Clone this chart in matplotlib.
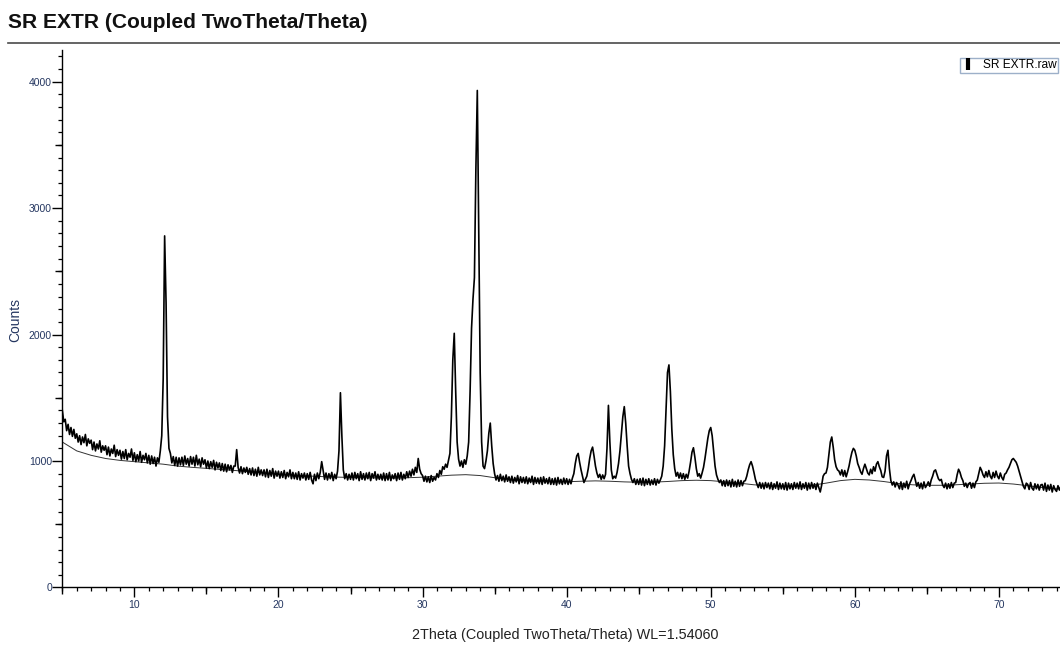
import numpy as np
import matplotlib.pyplot as plt
from matplotlib.lines import Line2D
from matplotlib.ticker import MultipleLocator, FixedLocator

plt.rcParams['font.family'] = ['Liberation Sans', 'DejaVu Sans']

# Scan: starts at 5.0 deg 2Theta, 0.1 deg step. One row per degree (x.0 ... x.9)
scan_start = 5.0
scan_step = 0.1
counts = [
    1400, 1310, 1330, 1240, 1290, 1210, 1265, 1195, 1250, 1180,   # 5
    1215, 1150, 1200, 1130, 1190, 1145, 1210, 1120, 1175, 1140,   # 6
    1165, 1090, 1150, 1080, 1135, 1095, 1160, 1070, 1120, 1085,   # 7
    1120, 1050, 1110, 1040, 1095, 1060, 1125, 1035, 1090, 1045,   # 8
    1085, 1015, 1075, 1020, 1090, 1010, 1060, 1030, 1095, 1005,   # 9
    1065, 995, 1050, 1000, 1075, 990, 1045, 1010, 1060, 985,      # 10
    1045, 975, 1040, 980, 1030, 960, 1025, 990, 1080, 1200,       # 11
    1650, 2780, 2250, 1350, 1100, 1060, 985, 1035, 965, 1030,     # 12
    960, 1025, 970, 1030, 965, 1040, 975, 1020, 960, 1035,        # 13
    975, 1030, 960, 1045, 970, 1015, 955, 1025, 975, 1010,        # 14
    945, 1000, 940, 995, 950, 1005, 930, 990, 945, 985,           # 15
    925, 980, 920, 975, 915, 970, 930, 965, 910, 960,             # 16
    960, 1090, 950, 905, 955, 900, 945, 910, 950, 895,            # 17
    940, 890, 945, 885, 935, 880, 950, 890, 930, 885,             # 18
    930, 875, 935, 870, 925, 880, 940, 865, 920, 880,             # 19
    920, 865, 915, 870, 925, 860, 910, 875, 930, 860,             # 20
    910, 860, 905, 855, 915, 850, 900, 865, 905, 850,             # 21
    900, 855, 910, 850, 820, 895, 845, 905, 860, 910,             # 22
    995, 925, 855, 905, 850, 900, 860, 910, 845, 895,             # 23
    860, 920, 1080, 1540, 1200, 930, 860, 900, 850, 895,          # 24
    855, 905, 850, 910, 860, 900, 845, 915, 855, 900,             # 25
    850, 905, 860, 910, 845, 900, 865, 915, 850, 895,             # 26
    855, 895, 850, 905, 845, 900, 850, 910, 845, 890,             # 27
    860, 900, 845, 905, 855, 910, 850, 895, 860, 915,             # 28
    870, 920, 880, 935, 890, 950, 910, 1020, 935, 900,            # 29
    885, 840, 880, 835, 875, 830, 885, 840, 870, 850,             # 30
    900, 870, 925, 895, 955, 935, 975, 950, 1005, 1060,           # 31
    1350, 1800, 2010, 1550, 1150, 1015, 960, 1000, 950, 1010,     # 32
    975, 1040, 1150, 1550, 2050, 2280, 2450, 3300, 3930, 2800,    # 33
    1700, 1150, 960, 940, 1000, 1080, 1220, 1300, 1120, 980,      # 34
    900, 850, 885, 840, 895, 845, 880, 835, 890, 840,             # 35
    875, 830, 880, 825, 870, 835, 885, 820, 875, 830,             # 36
    870, 825, 875, 820, 865, 830, 880, 815, 870, 825,             # 37
    865, 820, 870, 815, 875, 825, 860, 820, 870, 815,             # 38
    860, 815, 865, 810, 870, 820, 855, 815, 865, 820,             # 39
    860, 815, 855, 820, 865, 900, 980, 1040, 1060, 990,           # 40
    930, 880, 830, 855, 880, 940, 1020, 1080, 1110, 1040,         # 41
    960, 905, 870, 895, 855, 890, 860, 895, 1100, 1440,           # 42
    1150, 930, 860, 880, 865, 910, 980, 1080, 1220, 1350,         # 43
    1430, 1300, 1120, 960, 900, 855, 830, 860, 815, 855,          # 44
    815, 860, 810, 865, 805, 855, 815, 860, 810, 850,             # 45
    815, 860, 810, 855, 825, 850, 880, 960, 1120, 1400,           # 46
    1700, 1760, 1550, 1250, 1050, 940, 880, 910, 865, 905,        # 47
    860, 900, 855, 895, 865, 920, 990, 1070, 1105, 1030,          # 48
    940, 880, 900, 865, 905, 950, 1020, 1100, 1180, 1240,         # 49
    1265, 1200, 1080, 960, 890, 855, 830, 850, 805, 845,          # 50
    800, 850, 805, 845, 795, 855, 800, 840, 795, 850,             # 51
    800, 845, 805, 840, 845, 880, 930, 970, 995, 960,             # 52
    910, 855, 820, 790, 830, 785, 825, 780, 830, 790,             # 53
    825, 780, 830, 775, 820, 785, 835, 775, 825, 780,             # 54
    820, 775, 830, 770, 825, 780, 820, 775, 830, 785,             # 55
    825, 780, 835, 775, 820, 785, 830, 770, 825, 780,             # 56
    830, 785, 820, 775, 825, 790, 755, 810, 880, 900,             # 57
    905, 950, 1050, 1150, 1190, 1110, 1010, 955, 930, 920,        # 58
    890, 930, 880, 925, 875, 915, 960, 1020, 1070, 1100,          # 59
    1085, 1040, 980, 950, 915, 895, 940, 975, 940, 905,           # 60
    890, 935, 900, 955, 920, 975, 995, 955, 925, 875,             # 61
    870, 920, 1040, 1085, 940, 845, 810, 835, 795, 830,           # 62
    810, 780, 835, 775, 825, 790, 840, 780, 820, 845,             # 63
    875, 895, 850, 800, 830, 785, 825, 780, 835, 790,             # 64
    810, 835, 800, 850, 880, 920, 930, 895, 860, 845,             # 65
    855, 810, 790, 825, 780, 820, 785, 830, 790, 825,             # 66
    830, 890, 935, 910, 870, 845, 800, 825, 790, 820,             # 67
    830, 785, 825, 790, 835, 850, 900, 950, 925, 890,             # 68
    870, 915, 875, 925, 880, 860, 910, 870, 920, 880,             # 69
    860, 905, 870, 850, 895, 905, 930, 950, 980, 1010,            # 70
    1020, 1005, 990, 960, 920, 880, 840, 800, 780, 825,           # 71
    815, 775, 830, 785, 770, 820, 780, 815, 770, 810,             # 72
    815, 770, 825, 760, 810, 770, 815, 755, 805, 775,             # 73
    760, 805, 770, 800,                                           # 74
]
two_theta = scan_start + scan_step * np.arange(len(counts))

# Fitted background (smooth line under the pattern)
bg_theta = [5, 6, 7, 8, 9, 10, 11, 12, 13, 14, 15, 16, 17, 18, 19, 20, 21, 22, 23, 24,
            25, 26, 27, 28, 29, 30, 31, 32, 33, 34, 35, 36, 37, 38, 39, 40, 41, 42, 43, 44,
            45, 46, 47, 48, 49, 50, 51, 52, 53, 54, 55, 56, 57, 58, 59, 60, 61, 62, 63, 64,
            65, 66, 67, 68, 69, 70, 71, 72, 73, 74, 75]
bg_counts = [1150, 1080, 1045, 1020, 1005, 995, 985, 975, 960, 950, 942, 933, 925, 915, 905,
             895, 888, 882, 877, 873, 870, 868, 866, 866, 868, 872, 880, 888, 892, 885, 868,
             852, 843, 838, 835, 836, 840, 843, 840, 835, 832, 833, 838, 845, 848, 845, 835,
             825, 812, 805, 800, 800, 808, 825, 845, 855, 850, 838, 822, 812, 808, 808, 812,
             818, 824, 826, 818, 805, 790, 780, 772]

title = "SR EXTR (Coupled TwoTheta/Theta)"
x_label = "2Theta (Coupled TwoTheta/Theta) WL=1.54060"
y_label = "Counts"
legend_label = "SR EXTR.raw"

label_color = '#243660'

fig = plt.figure(figsize=(10.6, 6.48), dpi=100)
ax = fig.add_axes([0.0588, 0.0934, 0.9412, 0.8294])

ax.plot(bg_theta, bg_counts, color='#333333', lw=0.7)
ax.plot(two_theta, counts, color='black', lw=1.2)

ax.set_xlim(5, 74.24)
ax.set_ylim(0, 4250)

for side in ['top', 'right']:
    ax.spines[side].set_visible(False)
for side in ['left', 'bottom']:
    ax.spines[side].set_linewidth(1.0)

ax.xaxis.set_major_locator(MultipleLocator(10))
ax.xaxis.set_minor_locator(MultipleLocator(1))
ax.yaxis.set_major_locator(MultipleLocator(1000))
ax.yaxis.set_minor_locator(MultipleLocator(100))
ax.tick_params(which='major', length=7, width=1.0, labelsize=7.5,
               labelcolor=label_color)
ax.tick_params(axis='y', which='major', pad=0.5)
ax.tick_params(axis='x', which='major', pad=2)
ax.tick_params(which='minor', length=3, width=0.9)

# medium ticks at the half steps
secx = ax.secondary_xaxis(0.0)
secx.xaxis.set_major_locator(FixedLocator(np.arange(5, 75, 10)))
secx.tick_params(length=5, width=1.0, labelbottom=False)
secx.spines['bottom'].set_visible(False)
secy = ax.secondary_yaxis(0.0)
secy.yaxis.set_major_locator(FixedLocator(np.arange(500, 4250, 1000)))
secy.tick_params(length=5, width=1.0, labelleft=False)
secy.spines['left'].set_visible(False)

ax.set_xlabel(x_label, fontsize=10.4, color='#222222')
ax.xaxis.set_label_coords(0.504, -0.088)
ax.xaxis.label.set_va('center')
ax.set_ylabel(y_label, fontsize=10, color=label_color)
ax.yaxis.set_label_coords(-0.0474, 0.498)
ax.yaxis.label.set_va('center')

fig.text(0.0075, 1 - 27.7 / 648, title, fontsize=15.1, fontweight='bold',
         va='baseline', ha='left', color='#111111')
fig.add_artist(Line2D([8 / 1060, 1.0], [1 - 42.7 / 648] * 2,
                      transform=fig.transFigure, color='#4a4a4a', lw=1.2))

handle = Line2D([], [], color='black', marker='|', linestyle='none',
                markersize=8, markeredgewidth=3)
leg = ax.legend([handle], [legend_label], loc='upper left',
                bbox_to_anchor=(960 / 1060, 1 - 58.3 / 648),
                bbox_transform=fig.transFigure, fontsize=8.6, frameon=True,
                fancybox=False, framealpha=1, borderpad=0.1,
                handlelength=1.2, handletextpad=0.6, borderaxespad=0)
leg.get_frame().set_edgecolor('#9db0c9')
leg.get_frame().set_linewidth(1.0)

fig.savefig('out.png', dpi=100)
